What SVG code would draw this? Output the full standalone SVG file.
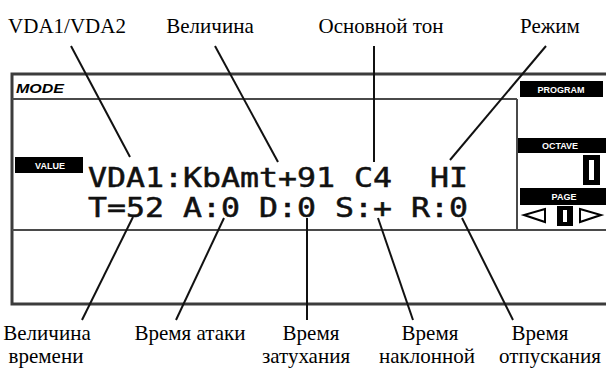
<svg xmlns="http://www.w3.org/2000/svg" width="606" height="371" viewBox="0 0 606 371">
<style>
.lbl{font-family:'Liberation Serif','Times New Roman',serif;font-size:21px;fill:#000;text-anchor:middle}
.lcd{font-family:'DejaVu Sans Mono','Liberation Mono',monospace;font-size:26px;fill:#111;stroke:#111;stroke-width:0.5}
.frame{stroke:#3c3c3c;stroke-width:3;fill:none}
.inner{stroke:#4a4a4a;stroke-width:2;fill:none}
.conn line{stroke:#111;stroke-width:2}
.tag{font-family:'Liberation Sans',Arial,sans-serif;font-weight:bold;font-size:9px;fill:#fff;text-anchor:middle}
.blk{fill:#000}
</style>
<rect width="606" height="371" fill="#fff"/>
<g id="lcd-frame">
  <path class="frame" d="M606 74 H12 V304 H606"/>
  <line class="inner" x1="12" y1="99" x2="517" y2="99"/>
  <line class="inner" x1="12" y1="230" x2="606" y2="230"/>
  <line class="inner" x1="517" y1="99" x2="517" y2="230"/>
  <text x="16" y="93" font-family="Liberation Sans,Arial,sans-serif" font-size="13" font-weight="bold" font-style="italic" textLength="48" lengthAdjust="spacingAndGlyphs">MODE</text>
</g>
<g id="value-tag">
  <rect class="blk" x="15" y="157" width="68" height="16"/>
  <text class="tag" x="50" y="169">VALUE</text>
</g>
<g id="lcd-text">
  <text class="lcd" x="88" y="187" xml:space="preserve" textLength="380" lengthAdjust="spacingAndGlyphs">VDA1:KbAmt+91 C4  HI</text>
  <text class="lcd" x="88" y="217" xml:space="preserve" textLength="380" lengthAdjust="spacingAndGlyphs">T=52 A:0 D:0 S:+ R:0</text>
</g>
<g id="right-panel">
  <rect class="blk" x="520" y="81" width="83" height="16"/>
  <text class="tag" x="561" y="93">PROGRAM</text>
  <rect class="blk" x="518" y="138" width="88" height="15"/>
  <text class="tag" x="560" y="149">OCTAVE</text>
  <rect class="blk" x="583" y="155" width="17" height="30"/>
  <rect fill="#fff" x="589" y="160" width="5" height="20"/>
  <rect class="blk" x="520" y="188" width="86" height="17"/>
  <text class="tag" x="564" y="200">PAGE</text>
  <path d="M545 209 L524 215 L545 222 Z" fill="none" stroke="#000" stroke-width="2"/>
  <rect class="blk" x="557" y="206" width="16" height="20"/>
  <rect fill="#fff" x="563" y="210" width="4" height="12"/>
  <path d="M580 209 L601 215 L580 222 Z" fill="none" stroke="#000" stroke-width="2"/>
</g>
<g id="connectors" class="conn">
  <line x1="71" y1="46" x2="130" y2="157"/>
  <line x1="215" y1="46" x2="278" y2="162"/>
  <line x1="374" y1="46" x2="374" y2="162"/>
  <line x1="546" y1="46" x2="450" y2="160"/>
  <line x1="133" y1="217" x2="82" y2="320"/>
  <line x1="224" y1="218" x2="176" y2="320"/>
  <line x1="307" y1="218" x2="307" y2="320"/>
  <line x1="378" y1="218" x2="413" y2="320"/>
  <line x1="462" y1="218" x2="513" y2="320"/>
</g>
<g id="label-vda"><text class="lbl" x="67" y="33">VDA1/VDA2</text></g>
<g id="label-amount"><text class="lbl" x="210" y="33">Величина</text></g>
<g id="label-note"><text class="lbl" x="381" y="33">Основной тон</text></g>
<g id="label-mode"><text class="lbl" x="550" y="33">Режим</text></g>
<g id="label-time"><text class="lbl" x="47" y="340">Величина</text><text class="lbl" x="46" y="363">времени</text></g>
<g id="label-attack"><text class="lbl" x="190" y="340">Время атаки</text></g>
<g id="label-decay"><text class="lbl" x="311" y="340">Время</text><text class="lbl" x="306" y="363">затухания</text></g>
<g id="label-slope"><text class="lbl" x="430" y="340">Время</text><text class="lbl" x="427" y="363">наклонной</text></g>
<g id="label-release"><text class="lbl" x="540" y="340">Время</text><text class="lbl" x="550" y="363">отпускания</text></g>
</svg>
